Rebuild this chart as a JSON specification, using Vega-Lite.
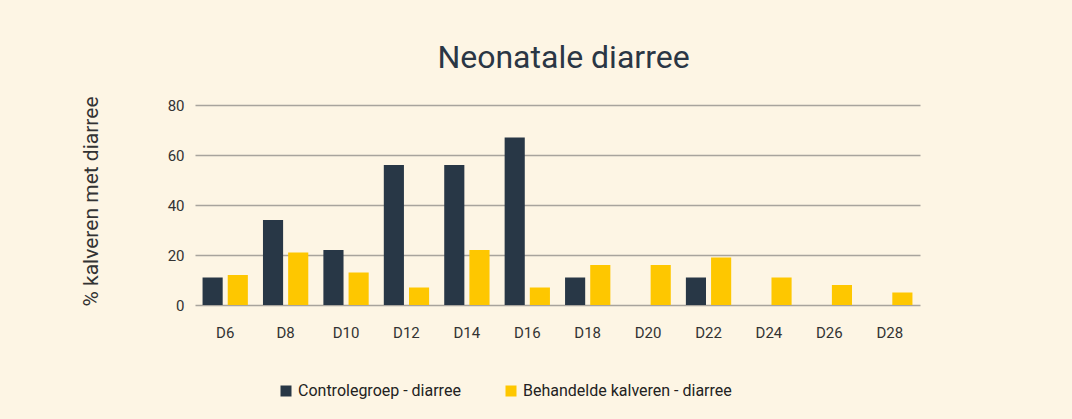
{
  "$schema": "https://vega.github.io/schema/vega-lite/v6.json",
  "width": 725,
  "height": 200,
  "autosize": {"type": "none"},
  "padding": {"left": 195, "top": 105, "right": 152, "bottom": 114},
  "background": "#fdf5e4",
  "title": {
    "text": "Neonatale diarree",
    "anchor": "middle",
    "frame": "group",
    "dx": 6,
    "offset": 21,
    "font": "Roboto",
    "fontSize": 32,
    "fontWeight": "normal",
    "color": "#2a3644"
  },
  "data": {
    "values": [
      {"day": "D6", "groep": "Controlegroep - diarree", "pct": 11},
      {"day": "D6", "groep": "Behandelde kalveren - diarree", "pct": 12},
      {"day": "D8", "groep": "Controlegroep - diarree", "pct": 34},
      {"day": "D8", "groep": "Behandelde kalveren - diarree", "pct": 21},
      {"day": "D10", "groep": "Controlegroep - diarree", "pct": 22},
      {"day": "D10", "groep": "Behandelde kalveren - diarree", "pct": 13},
      {"day": "D12", "groep": "Controlegroep - diarree", "pct": 56},
      {"day": "D12", "groep": "Behandelde kalveren - diarree", "pct": 7},
      {"day": "D14", "groep": "Controlegroep - diarree", "pct": 56},
      {"day": "D14", "groep": "Behandelde kalveren - diarree", "pct": 22},
      {"day": "D16", "groep": "Controlegroep - diarree", "pct": 67},
      {"day": "D16", "groep": "Behandelde kalveren - diarree", "pct": 7},
      {"day": "D18", "groep": "Controlegroep - diarree", "pct": 11},
      {"day": "D18", "groep": "Behandelde kalveren - diarree", "pct": 16},
      {"day": "D20", "groep": "Controlegroep - diarree", "pct": 0},
      {"day": "D20", "groep": "Behandelde kalveren - diarree", "pct": 16},
      {"day": "D22", "groep": "Controlegroep - diarree", "pct": 11},
      {"day": "D22", "groep": "Behandelde kalveren - diarree", "pct": 19},
      {"day": "D24", "groep": "Controlegroep - diarree", "pct": 0},
      {"day": "D24", "groep": "Behandelde kalveren - diarree", "pct": 11},
      {"day": "D26", "groep": "Controlegroep - diarree", "pct": 0},
      {"day": "D26", "groep": "Behandelde kalveren - diarree", "pct": 8},
      {"day": "D28", "groep": "Controlegroep - diarree", "pct": 0},
      {"day": "D28", "groep": "Behandelde kalveren - diarree", "pct": 5}
    ]
  },
  "mark": {"type": "bar"},
  "encoding": {
    "x": {
      "field": "day",
      "type": "nominal",
      "sort": null,
      "scale": {"paddingInner": 0.25, "paddingOuter": 0.125},
      "axis": {
        "title": null,
        "domain": false,
        "ticks": false,
        "labelAngle": 0,
        "labelPadding": 20,
        "labelDx": 6,
        "labelFont": "Roboto",
        "labelFontSize": 15,
        "labelColor": "#333333"
      }
    },
    "xOffset": {
      "field": "groep",
      "type": "nominal",
      "sort": ["Controlegroep - diarree", "Behandelde kalveren - diarree"],
      "scale": {"paddingInner": 0.2, "paddingOuter": 0}
    },
    "y": {
      "field": "pct",
      "type": "quantitative",
      "scale": {"domain": [0, 80]},
      "axis": {
        "title": "% kalveren met diarree",
        "values": [0, 20, 40, 60, 80],
        "domain": false,
        "ticks": false,
        "grid": true,
        "gridColor": "#a8a49d",
        "gridWidth": 1.5,
        "gridOpacity": 1,
        "labelPadding": 11,
        "labelFont": "Roboto",
        "labelFontSize": 15,
        "labelColor": "#333333",
        "titleFont": "Roboto",
        "titleFontSize": 21,
        "titleFontWeight": "normal",
        "titleColor": "#333333",
        "titleX": -104,
        "titleY": 96,
        "titleAlign": "center",
        "titleBaseline": "middle"
      }
    },
    "color": {
      "field": "groep",
      "type": "nominal",
      "sort": ["Controlegroep - diarree", "Behandelde kalveren - diarree"],
      "scale": {
        "domain": ["Controlegroep - diarree", "Behandelde kalveren - diarree"],
        "range": ["#283746", "#fec700"]
      },
      "legend": {
        "title": null,
        "orient": "none",
        "direction": "horizontal",
        "legendX": 83,
        "legendY": 278,
        "symbolType": "square",
        "symbolSize": 121,
        "symbolStrokeWidth": 0,
        "symbolOpacity": 1,
        "labelFont": "Roboto",
        "labelFontSize": 16,
        "labelLimit": 400,
        "labelColor": "#222222",
        "labelOffset": 4,
        "columnPadding": 42
      }
    }
  },
  "config": {
    "view": {"stroke": null}
  }
}
